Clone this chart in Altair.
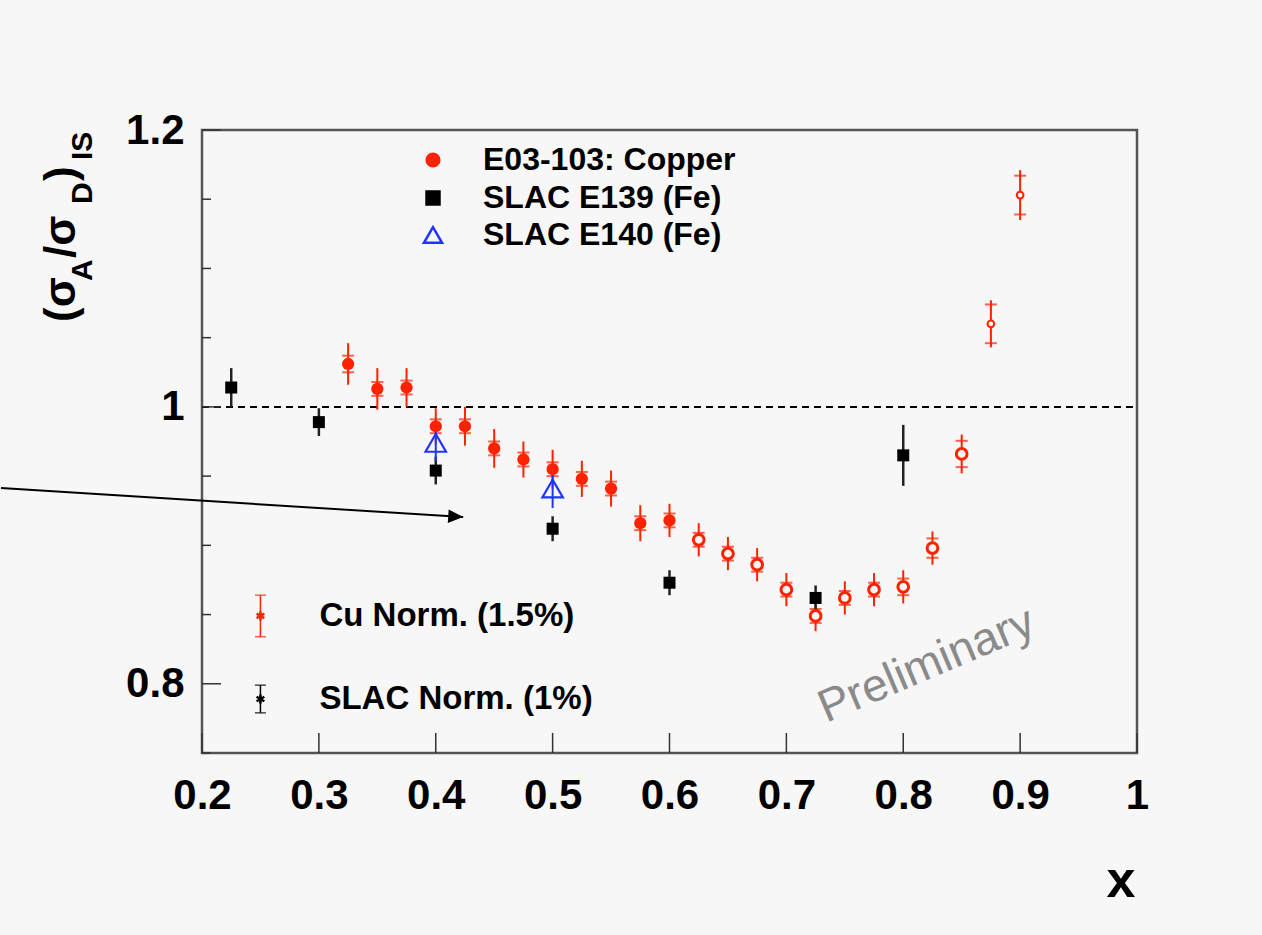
import altair as alt
import pandas as pd

# ---------------- data ----------------
cu_x = [0.325, 0.35, 0.375, 0.4, 0.425, 0.45, 0.475, 0.5, 0.525, 0.55, 0.575, 0.6,
        0.625, 0.65, 0.675, 0.7, 0.725, 0.75, 0.775, 0.8, 0.825, 0.85, 0.875, 0.9]
cu_y = [1.031, 1.013, 1.014, 0.986, 0.986, 0.970, 0.962, 0.955, 0.948, 0.941, 0.916, 0.918,
        0.904, 0.894, 0.886, 0.868, 0.849, 0.862, 0.868, 0.870, 0.898, 0.966, 1.060, 1.153]
cu_err = [0.015, 0.015, 0.014, 0.013, 0.014, 0.014, 0.013, 0.014, 0.013, 0.013, 0.013, 0.012,
          0.012, 0.012, 0.012, 0.012, 0.011, 0.012, 0.012, 0.012, 0.012, 0.014, 0.017, 0.018]
cu_stat = [0.006, 0.005, 0.005, 0.005, 0.005, 0.005, 0.005, 0.005, 0.005, 0.005, 0.005, 0.005,
           0.005, 0.005, 0.005, 0.005, 0.005, 0.005, 0.005, 0.006, 0.007, 0.0095, 0.014, 0.014]
cu_style = ["filled", "filled", "filled", "filled", "filled", "filled", "filled", "filled",
            "filled", "filled", "filled", "filled",
            "open", "open", "open", "open", "open", "open", "open", "open", "open", "open",
            "small", "small"]

e139_x = [0.225, 0.3, 0.4, 0.5, 0.6, 0.725, 0.8]
e139_y = [1.014, 0.989, 0.954, 0.912, 0.873, 0.862, 0.965]
e139_err = [0.014, 0.010, 0.010, 0.009, 0.009, 0.009, 0.022]

e140_x = [0.4, 0.5]
e140_y = [0.974, 0.941]
e140_err = [0.013, 0.014]

norm_labels = ["Cu Norm. (1.5%)", "SLAC Norm. (1%)"]
norm_x = [0.25, 0.25]
norm_y = [0.849, 0.789]
norm_err = [0.015, 0.010]
norm_colors = ["#ff2200", "#000000"]

legend_labels = ["E03-103: Copper", "SLAC E139 (Fe)", "SLAC E140 (Fe)"]

x_ticks = [0.2, 0.3, 0.4, 0.5, 0.6, 0.7, 0.8, 0.9, 1.0]
y_major = [0.8, 1.0, 1.2]
y_minor = [0.75, 0.85, 0.9, 0.95, 1.05, 1.1, 1.15]

arrow_x = [0.028, 0.4235]
arrow_y = [0.9414, 0.9204]

RED = "#ff2200"
BLUE = "#1f35ff"
BG = "#f7f7f7"
FONT = "Liberation Sans"

W, H = 935, 623

xs = alt.Scale(domain=[0.2, 1.0], nice=False, zero=False)
ys = alt.Scale(domain=[0.75, 1.2], nice=False, zero=False)

XAX = alt.Axis(
    values=x_ticks, labelExpr="datum.value == 1 ? '1' : format(datum.value, '.1f')",
    domain=False, ticks=False, tickSize=0, grid=False, labelPadding=22,
    labelFontSize=42, labelFontWeight="bold", labelColor="black", labelFont=FONT,
    title=None, labelOverlap=False, labelFlush=False)
YAX = alt.Axis(
    values=y_major, labelExpr="datum.value == 1 ? '1' : format(datum.value, '.1f')",
    domain=False, ticks=False, tickSize=0, grid=False, labelPadding=18,
    labelFontSize=42, labelFontWeight="bold", labelColor="black", labelFont=FONT,
    title=None, labelOverlap=False, labelBaseline="middle", labelFlush=False)

cu = pd.DataFrame({"x": cu_x, "y": cu_y, "err": cu_err, "stat": cu_stat, "style": cu_style})
cu["lo"] = cu["y"] - cu["err"]
cu["hi"] = cu["y"] + cu["err"]
cu["slo"] = cu["y"] - cu["stat"]
cu["shi"] = cu["y"] + cu["stat"]

e139 = pd.DataFrame({"x": e139_x, "y": e139_y, "err": e139_err})
e139["lo"] = e139["y"] - e139["err"]
e139["hi"] = e139["y"] + e139["err"]

e140 = pd.DataFrame({"x": e140_x, "y": e140_y, "err": e140_err})
e140["lo"] = e140["y"] - e140["err"]
e140["hi"] = e140["y"] + e140["err"]

norm = pd.DataFrame({"label": norm_labels, "x": norm_x, "y": norm_y, "err": norm_err, "color": norm_colors})
norm["lo"] = norm["y"] - norm["err"]
norm["hi"] = norm["y"] + norm["err"]


def X(f="x"):
    return alt.X(f"{f}:Q", scale=xs, axis=XAX)


def Y(f="y"):
    return alt.Y(f"{f}:Q", scale=ys, axis=YAX)


# dashed line at unity
unity = alt.Chart(pd.DataFrame({"x": [0.2], "y": [1.0], "x2": [1.0]})).mark_rule(
    color="black", strokeDash=[7, 5], strokeWidth=2
).encode(x=X(), x2="x2:Q", y=Y())

# inward ticks
xtick = alt.Chart(pd.DataFrame({"x": x_ticks})).mark_rule(color="#333", strokeWidth=1.5).encode(
    x=X(), y=alt.value(H - 20), y2=alt.value(H))
ymaj = alt.Chart(pd.DataFrame({"y": y_major})).mark_rule(color="#333", strokeWidth=1.5).encode(
    y=Y(), x=alt.value(0), x2=alt.value(19))
ymin = alt.Chart(pd.DataFrame({"y": y_minor})).mark_rule(color="#333", strokeWidth=1.5).encode(
    y=Y(), x=alt.value(0), x2=alt.value(9))

# error bars
cu_bar = alt.Chart(cu).mark_rule(color=RED, strokeWidth=2).encode(x=X(), y=Y("lo"), y2="hi:Q")
cu_cap_lo = alt.Chart(cu).mark_tick(color=RED, orient="horizontal", size=12, thickness=2).encode(x=X(), y=Y("slo"))
cu_cap_hi = alt.Chart(cu).mark_tick(color=RED, orient="horizontal", size=12, thickness=2).encode(x=X(), y=Y("shi"))
e139_bar = alt.Chart(e139).mark_rule(color="#222", strokeWidth=2.5).encode(x=X(), y=Y("lo"), y2="hi:Q")
e140_bar = alt.Chart(e140).mark_rule(color=BLUE, strokeWidth=2).encode(x=X(), y=Y("lo"), y2="hi:Q")

# points
cu_filled = alt.Chart(cu).transform_filter("datum.style == 'filled'").mark_point(
    shape="circle", filled=True, color=RED, size=150, opacity=1).encode(x=X(), y=Y())
cu_open = alt.Chart(cu).transform_filter("datum.style == 'open'").mark_point(
    shape="circle", filled=False, fill=BG, fillOpacity=1, stroke=RED, strokeWidth=3, size=115, opacity=1
).encode(x=X(), y=Y())
cu_small = alt.Chart(cu).transform_filter("datum.style == 'small'").mark_point(
    shape="circle", filled=False, fill=BG, fillOpacity=1, stroke=RED, strokeWidth=2, size=45, opacity=1
).encode(x=X(), y=Y())
e139_pts = alt.Chart(e139).mark_point(shape="square", filled=True, color="black", size=144, opacity=1).encode(x=X(), y=Y())
e140_pts = alt.Chart(e140).mark_point(shape="triangle-up", filled=False, stroke=BLUE, strokeWidth=2.2,
                                      size=420, opacity=1).encode(x=X(), y=Y())

# top legend (pixel layout)
leg = pd.DataFrame({"label": legend_labels, "px": [231, 231, 231], "py": [30, 68, 105],
                    "tx": [281, 281, 281]})
leg_c = alt.Chart(leg.iloc[[0]]).mark_point(shape="circle", filled=True, color=RED, size=230, opacity=1).encode(
    x=alt.X("px:Q", scale=None), y=alt.Y("py:Q", scale=None))
leg_s = alt.Chart(leg.iloc[[1]]).mark_point(shape="square", filled=True, color="black", size=240, opacity=1).encode(
    x=alt.X("px:Q", scale=None), y=alt.Y("py:Q", scale=None))
leg_t = alt.Chart(leg.iloc[[2]]).mark_point(shape="triangle-up", filled=False, stroke=BLUE, strokeWidth=2.5,
                                           size=330, opacity=1).encode(
    x=alt.X("px:Q", scale=None), y=alt.Y("py:Q", scale=None))
leg_text = alt.Chart(leg).mark_text(align="left", baseline="middle", fontSize=32, fontWeight="bold",
                                    font=FONT, color="black").encode(
    x=alt.X("tx:Q", scale=None), y=alt.Y("py:Q", scale=None), text="label:N")

# normalisation legend (bars in data units)
norm_bar = alt.Chart(norm).mark_rule(strokeWidth=1.5).encode(
    x=X(), y=Y("lo"), y2="hi:Q", color=alt.Color("color:N", scale=None))
norm_cap1 = alt.Chart(norm).mark_tick(orient="horizontal", size=11, thickness=1.5).encode(
    x=X(), y=Y("lo"), color=alt.Color("color:N", scale=None))
norm_cap2 = alt.Chart(norm).mark_tick(orient="horizontal", size=11, thickness=1.5).encode(
    x=X(), y=Y("hi"), color=alt.Color("color:N", scale=None))
norm_star = alt.Chart(norm).mark_point(
    shape="M0,-1L0,1M-0.87,-0.5L0.87,0.5M-0.87,0.5L0.87,-0.5", filled=False, strokeWidth=2.5, size=80, opacity=1
).encode(x=X(), y=Y(), stroke=alt.Color("color:N", scale=None))
norm_text = alt.Chart(norm).mark_text(align="left", baseline="middle", fontSize=33, fontWeight="bold",
                                      font=FONT, color="black", dx=59).encode(
    x=X(), y=Y(), text="label:N")

# Preliminary watermark
prelim = alt.Chart(pd.DataFrame({"t": ["Preliminary"]})).mark_text(
    align="center", baseline="alphabetic", angle=337, fontSize=46, font=FONT, color="#8a8a8a"
).encode(x=alt.value(730), y=alt.value(548), text="t:N")

# arrow
arrow_df = pd.DataFrame({"x": [arrow_x[0]], "y": [arrow_y[0]], "x2": [arrow_x[1]], "y2": [arrow_y[1]]})
arrow_line = alt.Chart(arrow_df).mark_rule(color="black", strokeWidth=2).encode(
    x=X(), y=Y(), x2="x2:Q", y2="y2:Q")
arrow_head = alt.Chart(pd.DataFrame({"x": [arrow_x[1]], "y": [arrow_y[1]]})).mark_point(
    shape="M0,0L-2,-0.9L-2,0.9Z", filled=True, color="black", size=225, angle=3.6, opacity=1
).encode(x=X(), y=Y())

# y-axis title built from pieces (subscripts)
ttl = pd.DataFrame({
    "t": ["(σ", "A", "/σ", "D", ")", "IS"],
    "px": [-127, -110, -127, -110, -127, -110],
    "py": [192, 151, 128, 74, 51, 30],
    "fs": [44, 30, 44, 30, 44, 30],
})
ytitle = alt.Chart(ttl).mark_text(align="left", baseline="alphabetic", angle=270, fontWeight="bold",
                                  font=FONT, color="black").encode(
    x=alt.X("px:Q", scale=None), y=alt.Y("py:Q", scale=None), text="t:N",
    size=alt.Size("fs:Q", scale=None, legend=None))

xtitle = alt.Chart(pd.DataFrame({"t": ["x"]})).mark_text(
    align="center", baseline="alphabetic", fontSize=52, fontWeight="bold", font=FONT, color="black"
).encode(x=alt.value(919), y=alt.value(767), text="t:N")

chart = alt.layer(
    unity, xtick, ymaj, ymin,
    cu_bar, cu_cap_lo, cu_cap_hi, e139_bar, e140_bar,
    cu_filled, cu_open, cu_small, e139_pts, e140_pts,
    leg_c, leg_s, leg_t, leg_text,
    norm_bar, norm_cap1, norm_cap2, norm_star, norm_text,
    prelim, arrow_line, arrow_head, ytitle, xtitle,
).properties(
    width=W, height=H,
    autosize=alt.AutoSizeParams(type="none"),
    padding={"left": 202, "top": 130, "right": 125, "bottom": 182},
    background=BG,
).configure_view(fill=BG, stroke="#555", strokeWidth=2.5)

chart.save("out.html", embed_options={"renderer": "svg", "actions": False})
